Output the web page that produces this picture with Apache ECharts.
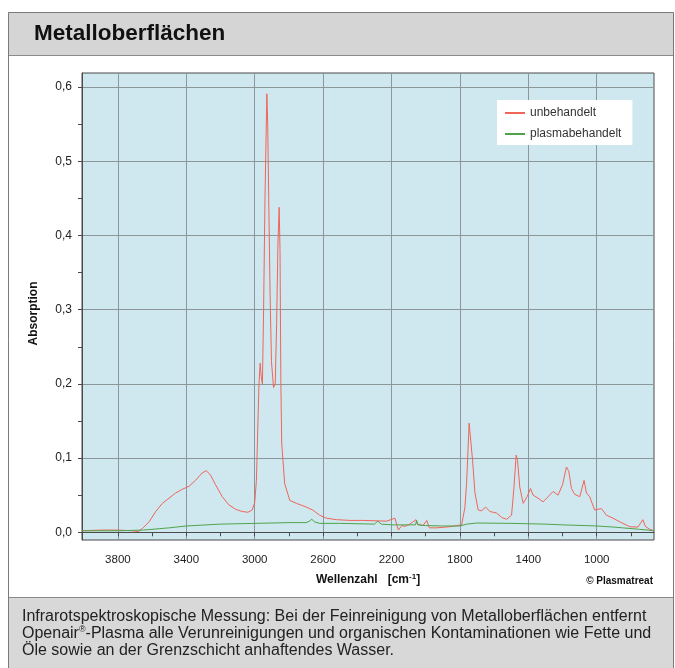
<!DOCTYPE html>
<html><head><meta charset="utf-8">
<script src="https://cdn.jsdelivr.net/npm/echarts@6/dist/echarts.min.js"></script>
<style>html,body{margin:0;padding:0;background:#fff}#c{width:675px;height:668px}</style>
</head><body><div id="c"></div>
<script>
const redWavenumbers = [4010,3900,3800,3715,3680,3657,3618,3579,3540,3501,3462,3423,3384,3346,3307,3283,3258,3229,3190,3151,3112,3073,3040,3015,3000,2990,2982,2975,2968,2962,2955,2948,2940,2929,2924,2918,2910,2902,2890,2880,2872,2864,2857,2852,2847,2842,2825,2795,2756,2698,2661,2620,2581,2522,2444,2366,2228,2180,2160,2140,2121,2092,2057,2050,2016,1994,1979,1936,1858,1790,1771,1761,1746,1738,1726,1712,1693,1673,1650,1625,1586,1556,1527,1498,1485,1471,1463,1450,1430,1407,1387,1372,1343,1314,1284,1255,1226,1200,1177,1163,1148,1128,1099,1074,1060,1041,1012,973,943,905,856,807,759,730,716,690,665];
const redAbsorption = [0.002,0.003,0.003,0.002,0.001,0.005,0.014,0.028,0.039,0.046,0.053,0.058,0.062,0.070,0.080,0.083,0.077,0.064,0.048,0.037,0.031,0.028,0.027,0.030,0.040,0.070,0.140,0.200,0.228,0.210,0.200,0.300,0.450,0.591,0.550,0.450,0.320,0.230,0.195,0.200,0.280,0.390,0.438,0.380,0.200,0.120,0.066,0.043,0.039,0.034,0.030,0.023,0.019,0.017,0.016,0.016,0.015,0.019,0.003,0.009,0.008,0.011,0.017,0.011,0.009,0.016,0.006,0.006,0.0075,0.010,0.033,0.066,0.147,0.145,0.097,0.053,0.030,0.029,0.034,0.028,0.026,0.020,0.0175,0.023,0.057,0.104,0.097,0.061,0.039,0.048,0.059,0.050,0.046,0.041,0.048,0.055,0.050,0.064,0.088,0.082,0.059,0.051,0.048,0.070,0.053,0.048,0.030,0.032,0.023,0.019,0.013,0.0075,0.007,0.017,0.008,0.004,0.002];
const greenWavenumbers = [4010,3800,3650,3500,3400,3200,3000,2800,2700,2680,2666,2650,2620,2500,2300,2280,2260,2200,2100,2060,2053,2045,2000,1900,1800,1760,1700,1500,1300,1200,1000,900,850,750,700,665];
const greenAbsorption = [0.002,0.002,0.003,0.006,0.0085,0.011,0.012,0.013,0.013,0.015,0.0175,0.014,0.012,0.012,0.011,0.015,0.011,0.010,0.010,0.010,0.016,0.010,0.009,0.0085,0.0085,0.011,0.0125,0.012,0.011,0.010,0.0085,0.007,0.006,0.004,0.003,0.002];
const xTickValues = [3800,3400,3000,2600,2200,1800,1400,1000];
const xMinorTickValues = [3600,3200,2800,2400,2000,1600,1200,800];
const yTickValues = [0,0.1,0.2,0.3,0.4,0.5,0.6];
const yMinorTickValues = [0.05,0.15,0.25,0.35,0.45,0.55];
const seriesNames = ['unbehandelt','plasmabehandelt'];

const FONT = '"Liberation Sans", Arial, sans-serif';
const chart = echarts.init(document.getElementById('c'), null, {renderer:'canvas'});
const X_MIN = 665, X_MAX = 4010, Y_MIN = -0.0104, Y_MAX = 0.619;

chart.setOption({
  animation: false,
  backgroundColor: '#ffffff',
  textStyle: {fontFamily: FONT},
  grid: {left: 82, right: 21, top: 73, bottom: 128, show: true,
         backgroundColor: '#cfe8ef', borderColor: '#4a4a4a', borderWidth: 1},
  legend: {
    orient: 'vertical', left: 497, top: 100, backgroundColor: '#ffffff',
    padding: [7, 11, 5, 8], itemGap: 9, itemWidth: 20, itemHeight: 2, icon: 'rect',
    textStyle: {fontFamily: FONT, fontSize: 12, color: '#333'},
    data: seriesNames
  },
  xAxis: [{
    type: 'value', inverse: true, min: X_MIN, max: X_MAX,
    name: '{a|Wellenzahl   [cm}{s|-1}{a|]}', nameLocation: 'middle', nameGap: 33,
    nameTextStyle: {rich: {
      a: {fontFamily: FONT, fontSize: 12, fontWeight: 'bold', color: '#111', lineHeight: 14},
      s: {fontFamily: FONT, fontSize: 8, fontWeight: 'bold', color: '#111', verticalAlign: 'top', lineHeight: 8}
    }},
    axisLine: {show: true, lineStyle: {color: '#4a4a4a'}},
    axisTick: {show: true, inside: false, length: 4, customValues: xTickValues, lineStyle: {color: '#4a4a4a'}},
    axisLabel: {customValues: xTickValues, margin: 14, fontFamily: FONT, fontSize: 11.5, color: '#222',
      formatter: v => String(Math.round(v))},
    splitLine: {show: true, lineStyle: {color: '#8d9699', width: 1}}
  }, {
    type: 'value', inverse: true, min: X_MIN, max: X_MAX, position: 'bottom',
    axisLine: {show: false},
    axisTick: {show: true, length: 4, customValues: xMinorTickValues, lineStyle: {color: '#4a4a4a'}},
    axisLabel: {show: false}, splitLine: {show: false}
  }],
  yAxis: [{
    type: 'value', min: Y_MIN, max: Y_MAX,
    name: 'Absorption', nameLocation: 'middle', nameGap: 42,
    nameTextStyle: {fontFamily: FONT, fontSize: 12, fontWeight: 'bold', color: '#111', padding: [0, 0, 0, -14]},
    axisLine: {show: true, lineStyle: {color: '#4a4a4a'}},
    axisTick: {show: true, length: 4, customValues: yTickValues, lineStyle: {color: '#4a4a4a'}},
    axisLabel: {customValues: yTickValues, margin: 10, fontFamily: FONT, fontSize: 12, color: '#222',
      formatter: v => v.toFixed(1).replace('.', ',')},
    splitLine: {show: true, lineStyle: {color: '#8d9699', width: 1}}
  }, {
    type: 'value', min: Y_MIN, max: Y_MAX, position: 'left',
    axisLine: {show: false},
    axisTick: {show: true, length: 4, customValues: yMinorTickValues, lineStyle: {color: '#4a4a4a'}},
    axisLabel: {show: false}, splitLine: {show: false}
  }],
  series: [{
    name: seriesNames[0], type: 'line', showSymbol: false, symbol: 'none', color: '#f1645a',
    lineStyle: {width: 1, color: '#f1645a'}, z: 3,
    data: redWavenumbers.map((w, i) => [w, redAbsorption[i]])
  }, {
    name: seriesNames[1], type: 'line', showSymbol: false, symbol: 'none', color: '#4fa34a',
    lineStyle: {width: 1, color: '#4fa34a'}, z: 4,
    data: greenWavenumbers.map((w, i) => [w, greenAbsorption[i]])
  }],
  graphic: [
    {type: 'rect', shape: {x: 8, y: 12, width: 666, height: 43}, style: {fill: '#d5d5d5'}, z: -1},
    {type: 'line', shape: {x1: 8, y1: 55.5, x2: 674, y2: 55.5}, style: {stroke: '#8a8a8a', lineWidth: 1}},
    {type: 'rect', shape: {x: 8, y: 597, width: 666, height: 71}, style: {fill: '#d8d8d8'}, z: -1},
    {type: 'line', shape: {x1: 8, y1: 597.5, x2: 674, y2: 597.5}, style: {stroke: '#8a8a8a', lineWidth: 1}},
    {type: 'rect', shape: {x: 8.5, y: 12.5, width: 665, height: 660}, style: {fill: null, stroke: '#7a7a7a', lineWidth: 1}},
    {type: 'text', left: 34, top: 22, style: {text: 'Metalloberflächen', fontFamily: FONT, fontSize: 22.5, fontWeight: 'bold', fill: '#111'}},
    {type: 'text', right: 22, top: 576, style: {text: '© Plasmatreat', fontFamily: FONT, fontSize: 10, fontWeight: 'bold', fill: '#111'}},
    {type: 'text', left: 22, top: 608, style: {
      text: 'Infrarotspektroskopische Messung: Bei der Feinreinigung von Metalloberflächen entfernt\n{n|Openair}{s|®}{n|-Plasma alle Verunreinigungen und organischen Kontaminationen wie Fette und}\nÖle sowie an der Grenzschicht anhaftendes Wasser.',
      fontFamily: FONT, fontSize: 16, fill: '#222', lineHeight: 17,
      rich: {
        n: {fontFamily: FONT, fontSize: 16, fill: '#222', lineHeight: 17},
        s: {fontFamily: FONT, fontSize: 9, fill: '#222', lineHeight: 17, verticalAlign: 'top'}
      }
    }}
  ]
});
</script></body></html>
